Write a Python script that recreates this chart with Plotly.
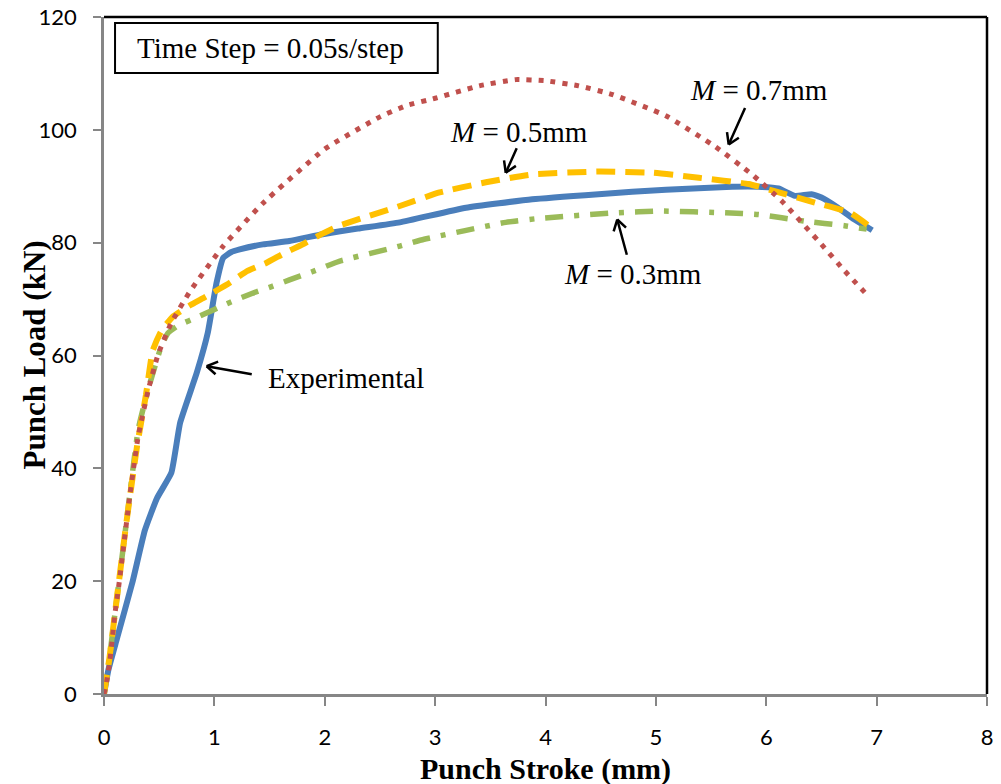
import math
import plotly.graph_objects as go

# ---------------- data ----------------
exp_x = [0, 0.04, 0.12, 0.26, 0.37, 0.48, 0.61, 0.69, 0.84, 0.94, 1.02, 1.08, 1.15, 1.23,
         1.44, 1.68, 1.98, 2.3, 2.68, 3.28, 3.88, 4.48, 5.09, 5.69, 5.93, 6.11, 6.26, 6.41,
         6.5, 6.65, 6.8, 6.96]
exp_y = [0, 4.3, 10, 20, 29, 34.7, 39.2, 48.1, 56.9, 64, 72.9, 77.3, 78.3, 78.8,
         79.7, 80.3, 81.5, 82.5, 83.6, 86.2, 87.7, 88.6, 89.4, 89.9, 89.9, 89.6, 88.3, 88.6,
         88.0, 86.2, 84.1, 82.2]

m07_x = [0, 0.024, 0.054, 0.1, 0.13, 0.235, 0.31, 0.40, 0.49, 0.61, 0.78, 1.08, 1.44, 2.0,
         2.5, 2.74, 3.0, 3.4, 3.73, 4.0, 4.3, 4.6, 5.09, 5.54, 5.87, 6.14, 6.5, 6.71, 6.93]
m07_y = [0, 2.2, 6, 14.4, 18.6, 35.3, 45.7, 53.8, 60.2, 65.8, 71.4, 79.4, 87, 96.6,
         102.3, 104.3, 105.6, 107.8, 108.9, 108.7, 107.8, 106.3, 102.5, 97.0, 92.1, 87.4, 79.7, 75, 70.4]

m05_x = [0, 0.05, 0.1, 0.2, 0.3, 0.38, 0.44, 0.51, 0.55, 0.63, 0.78, 0.93, 1.14, 1.30, 1.47,
         1.64, 1.80, 1.97, 2.13, 2.68, 3.04, 3.46, 3.88, 4.48, 4.97, 5.39, 5.84, 6.1, 6.44,
         6.76, 6.97]
m05_y = [0, 6.5, 14.4, 30, 44, 53, 60.8, 64, 65.2, 67, 68.9, 70.5, 72.9, 75, 76.4,
         78.2, 79.7, 81.5, 83, 86.5, 88.9, 90.7, 92.1, 92.6, 92.4, 91.5, 90.4, 89.0, 87.1,
         85.3, 82.4]

m03_x = [0, 0.05, 0.1, 0.2, 0.31, 0.4, 0.52, 0.58, 0.67, 0.87, 1.14, 1.34, 1.53, 1.68,
         1.88, 2.13, 2.68, 2.9, 3.64, 3.94, 4.64, 5.05, 5.63, 5.93, 6.35, 6.71, 6.91]
m03_y = [0, 6.5, 14.4, 30, 46.9, 54, 61.7, 64.0, 65.3, 67, 69.4, 71, 72.3, 73.4,
         74.8, 76.7, 79.4, 80.6, 83.6, 84.3, 85.3, 85.6, 85.3, 85.0, 83.8, 83.0, 82.4]

x_ticks = [0, 1, 2, 3, 4, 5, 6, 7, 8]
y_ticks = [0, 20, 40, 60, 80, 100, 120]

# ---------------- styles ----------------
BLUE = "#4A7EBB"
RED = "#C0504D"
YELLOW = "#FFC000"
GREEN = "#9BBB59"
AXIS_GREY = "#868686"
SERIF = "Liberation Serif"
SANS = "Lato"

fig = go.Figure()
fig.add_trace(go.Scatter(x=exp_x, y=exp_y, mode="lines", name="Experimental",
                         line=dict(color=BLUE, width=6, shape="spline", smoothing=0.4)))
fig.add_trace(go.Scatter(x=m03_x, y=m03_y, mode="lines", name="M = 0.3mm",
                         line=dict(color=GREEN, width=5.5, dash="18px,11px,5px,11px",
                                   shape="spline", smoothing=0.4)))
fig.add_trace(go.Scatter(x=m05_x, y=m05_y, mode="lines", name="M = 0.5mm",
                         line=dict(color=YELLOW, width=6, dash="19px,10px",
                                   shape="spline", smoothing=0.4)))
fig.add_trace(go.Scatter(x=m07_x, y=m07_y, mode="lines", name="M = 0.7mm",
                         line=dict(color=RED, width=5, dash="5px,7px",
                                   shape="spline", smoothing=0.4)))

annotations = []

# labels
def label(text, x, y, size=29):
    annotations.append(dict(x=x, y=y, xref="x", yref="y", text=text, showarrow=False,
                            xanchor="center", yanchor="middle",
                            font=dict(family=SERIF, size=size, color="black")))

label("<i>M</i> = 0.7mm", 5.93, 107.0)
label("<i>M</i> = 0.5mm", 3.76, 99.7)
label("<i>M</i> = 0.3mm", 4.79, 74.5)
label("Experimental", 2.19, 56.0)

# arrows (tip in data coords, tail offset in pixels)
def arrow(tx, ty, ax, ay, arm=14, ang=32):
    annotations.append(dict(x=tx, y=ty, xref="x", yref="y", ax=ax, ay=ay, axref="pixel",
                            ayref="pixel", text="", showarrow=True, arrowhead=0,
                            arrowwidth=2.5, arrowcolor="black", standoff=0, startstandoff=0))
    L = math.hypot(ax, ay)
    ux, uy = ax / L, ay / L
    for s in (1, -1):
        a = math.radians(ang) * s
        rx = ux * math.cos(a) - uy * math.sin(a)
        ry = ux * math.sin(a) + uy * math.cos(a)
        annotations.append(dict(x=tx, y=ty, xref="x", yref="y", ax=rx * arm, ay=ry * arm,
                                axref="pixel", ayref="pixel", text="", showarrow=True,
                                arrowhead=0, arrowwidth=2.5, arrowcolor="black",
                                standoff=0, startstandoff=0))

arrow(5.66, 97.4, 17, -38)
arrow(3.64, 92.4, 11.6, -26)
arrow(4.65, 84.1, 10, 36.7)
arrow(0.93, 58.1, 46.6, 8.3)

# time step box text
annotations.append(dict(x=0.189, y=0.9545, xref="paper", yref="paper",
                        text="Time Step = 0.05s/step", showarrow=False,
                        xanchor="center", yanchor="middle",
                        font=dict(family=SERIF, size=29, color="black")))

# axis titles
annotations.append(dict(x=0.5, y=0, xref="paper", yref="paper", yshift=-75,
                        text="<b>Punch Stroke (mm)</b>", showarrow=False,
                        xanchor="center", yanchor="middle",
                        font=dict(family=SERIF, size=30, color="black")))
annotations.append(dict(x=0, y=0.5, xref="paper", yref="paper", xshift=-70,
                        text="<b>Punch Load (kN)</b>", showarrow=False, textangle=-90,
                        xanchor="center", yanchor="middle",
                        font=dict(family=SERIF, size=31, color="black")))

shapes = [
    # top and right frame lines
    dict(type="line", xref="paper", yref="paper", x0=0, x1=1, y0=1, y1=1,
         line=dict(color="black", width=2.5)),
    dict(type="line", xref="paper", yref="paper", x0=1, x1=1, y0=0, y1=1,
         line=dict(color="black", width=2.5)),
    # time step box
    dict(type="rect", xref="paper", yref="paper", x0=0.0125, x1=0.378, y0=0.9173, y1=0.991,
         line=dict(color="black", width=2), fillcolor="white"),
]

fig.update_layout(
    width=1001, height=784,
    margin=dict(l=104, r=14, t=17, b=90, autoexpand=False),
    plot_bgcolor="white", paper_bgcolor="white",
    showlegend=False,
    annotations=annotations,
    shapes=shapes,
    xaxis=dict(range=[0, 8], tickvals=x_ticks, ticktext=[str(v) for v in x_ticks],
               showgrid=False, zeroline=False, showline=True, linecolor=AXIS_GREY,
               linewidth=2.5, ticks="outside", ticklen=9, tickwidth=2, tickcolor=AXIS_GREY,
               automargin=False, ticklabeloverflow="allow",
               tickfont=dict(family=SANS, size=22, color="black"), ticklabelstandoff=13),
    yaxis=dict(range=[0, 120], tickvals=y_ticks, ticktext=[str(v) for v in y_ticks],
               showgrid=False, zeroline=False, showline=True, linecolor=AXIS_GREY,
               linewidth=2.5, ticks="outside", ticklen=8, tickwidth=2, tickcolor=AXIS_GREY,
               automargin=False, ticklabeloverflow="allow",
               tickfont=dict(family=SANS, size=22, color="black"), ticklabelstandoff=12),
)

# remove the default 8px page margin so the 1001x784 figure fills the window exactly
fig.write_html("out.html",
               config={"displayModeBar": False},
               post_script="document.body.style.margin='0';document.body.style.overflow='hidden';")
